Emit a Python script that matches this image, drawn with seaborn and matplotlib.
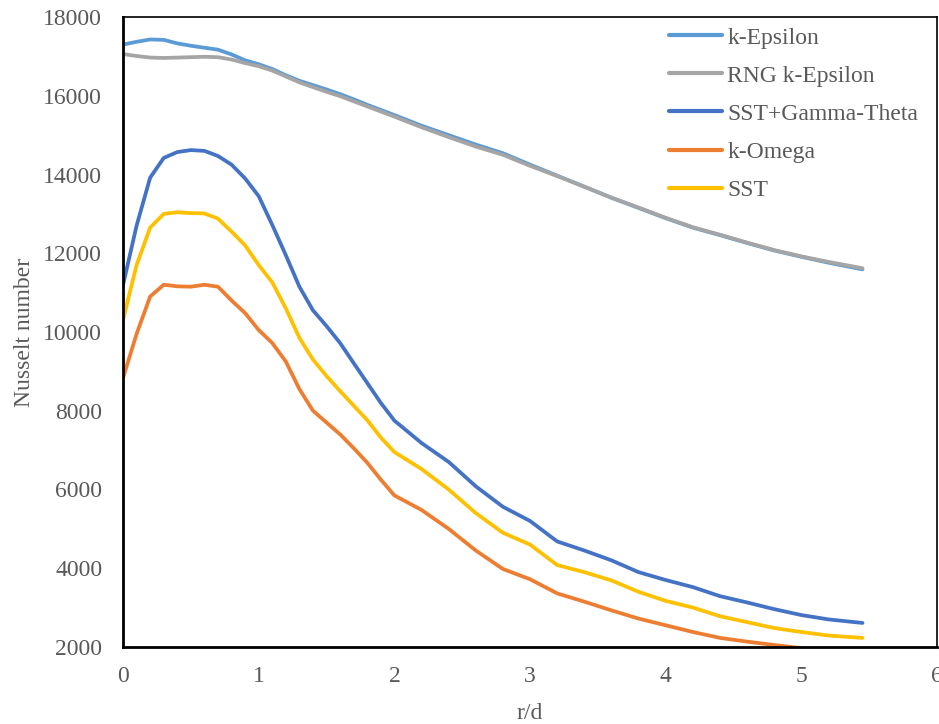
import numpy as np
import pandas as pd
import matplotlib
matplotlib.use("Agg")
import matplotlib.pyplot as plt
import seaborn as sns

r_d = [0, 0.1, 0.2, 0.3, 0.4, 0.5, 0.6, 0.7, 0.8, 0.9, 1.0, 1.1, 1.2, 1.3, 1.4,
       1.5, 1.6, 1.7, 1.8, 1.9, 2.0, 2.2, 2.4, 2.6, 2.8, 3.0, 3.2, 3.4, 3.6,
       3.8, 4.0, 4.2, 4.4, 4.6, 4.8, 5.0, 5.2, 5.45]

k_epsilon = [17300, 17370, 17430, 17420, 17330, 17270, 17220, 17170, 17050, 16900,
             16800, 16680, 16520, 16380, 16270, 16160, 16040, 15910, 15770, 15640,
             15510, 15240, 15000, 14760, 14540, 14250, 13970, 13690, 13410, 13150,
             12890, 12650, 12460, 12260, 12070, 11910, 11760, 11590]

rng_k_epsilon = [17060, 17010, 16970, 16960, 16970, 16980, 16990, 16980, 16920, 16830,
                 16750, 16640, 16490, 16340, 16220, 16100, 15990, 15860, 15730, 15600,
                 15470, 15200, 14950, 14710, 14500, 14220, 13960, 13690, 13410, 13160,
                 12900, 12660, 12470, 12270, 12080, 11920, 11780, 11620]

sst_gamma_theta = [11190, 12700, 13920, 14420, 14570, 14620, 14600, 14470, 14250, 13900,
                   13450, 12720, 11950, 11150, 10550, 10150, 9720, 9210, 8705, 8200,
                   7750, 7180, 6700, 6080, 5560, 5200, 4680, 4450, 4200, 3900,
                   3700, 3520, 3290, 3130, 2960, 2810, 2700, 2610]

k_omega = [8830, 9950, 10900, 11200, 11160, 11150, 11200, 11150, 10800, 10480,
           10050, 9720, 9250, 8550, 8000, 7700, 7400, 7050, 6680, 6250,
           5850, 5480, 5000, 4450, 3980, 3720, 3360, 3150, 2930, 2720,
           2550, 2380, 2230, 2135, 2050, 1970, 1890, 1820]

sst = [10300, 11700, 12650, 13000, 13040, 13020, 13010, 12880, 12550, 12200,
       11700, 11260, 10600, 9850, 9300, 8880, 8500, 8130, 7760, 7320,
       6950, 6520, 6000, 5400, 4900, 4600, 4080, 3900, 3690, 3400,
       3170, 3000, 2780, 2630, 2480, 2380, 2290, 2230]

series_names = ["k-Epsilon", "RNG k-Epsilon", "SST+Gamma-Theta", "k-Omega", "SST"]
series_vals = [k_epsilon, rng_k_epsilon, sst_gamma_theta, k_omega, sst]
colors = ["#5B9BD5", "#A5A5A5", "#4472C4", "#ED7D31", "#FFC000"]

x_ticks = [0, 1, 2, 3, 4, 5, 6]
y_ticks = [2000, 4000, 6000, 8000, 10000, 12000, 14000, 16000, 18000]

frames = []
for name, vals in zip(series_names, series_vals):
    frames.append(pd.DataFrame({"r/d": r_d, "Nu": vals, "model": name}))
df = pd.concat(frames, ignore_index=True)

sns.set_theme(style="white")
plt.rcParams["font.family"] = ["Liberation Serif", "DejaVu Serif"]

fig = plt.figure(figsize=(9.39, 7.24), dpi=100)
ax = fig.add_axes([0.131, 0.1064, 0.867, 0.8701])

sns.lineplot(data=df, x="r/d", y="Nu", hue="model", hue_order=series_names,
             palette=dict(zip(series_names, colors)), linewidth=2.7, ax=ax,
             sort=False, estimator=None)
for line in ax.get_lines():
    line.set_solid_joinstyle("round")
    line.set_solid_capstyle("round")

ax.set_xlim(0, 6)
ax.set_ylim(2000, 18000)
ax.set_xticks(x_ticks)
ax.set_yticks(y_ticks)
ax.tick_params(axis="y", length=0, labelsize=17, labelcolor="#595959", pad=15)
ax.tick_params(axis="x", length=0, labelsize=17, labelcolor="#595959", pad=14)
ax.set_xlabel("r/d", fontsize=17, color="#595959", labelpad=11)
ax.set_ylabel("Nusselt number", fontsize=17, color="#595959", labelpad=6)

for side in ["left", "bottom"]:
    ax.spines[side].set_linewidth(2.0)
    ax.spines[side].set_color("black")
for side in ["top", "right"]:
    ax.spines[side].set_linewidth(1.2)
    ax.spines[side].set_color("black")

leg = ax.legend(loc="upper left", bbox_to_anchor=(0.671, 0.984), frameon=False,
                fontsize=17, handlelength=2.24, handletextpad=0.21,
                labelspacing=0.70, borderaxespad=0, borderpad=0)
for t in leg.get_texts():
    t.set_color("#595959")
for l in leg.get_lines():
    l.set_linewidth(3)

fig.savefig("out.png", dpi=100)
